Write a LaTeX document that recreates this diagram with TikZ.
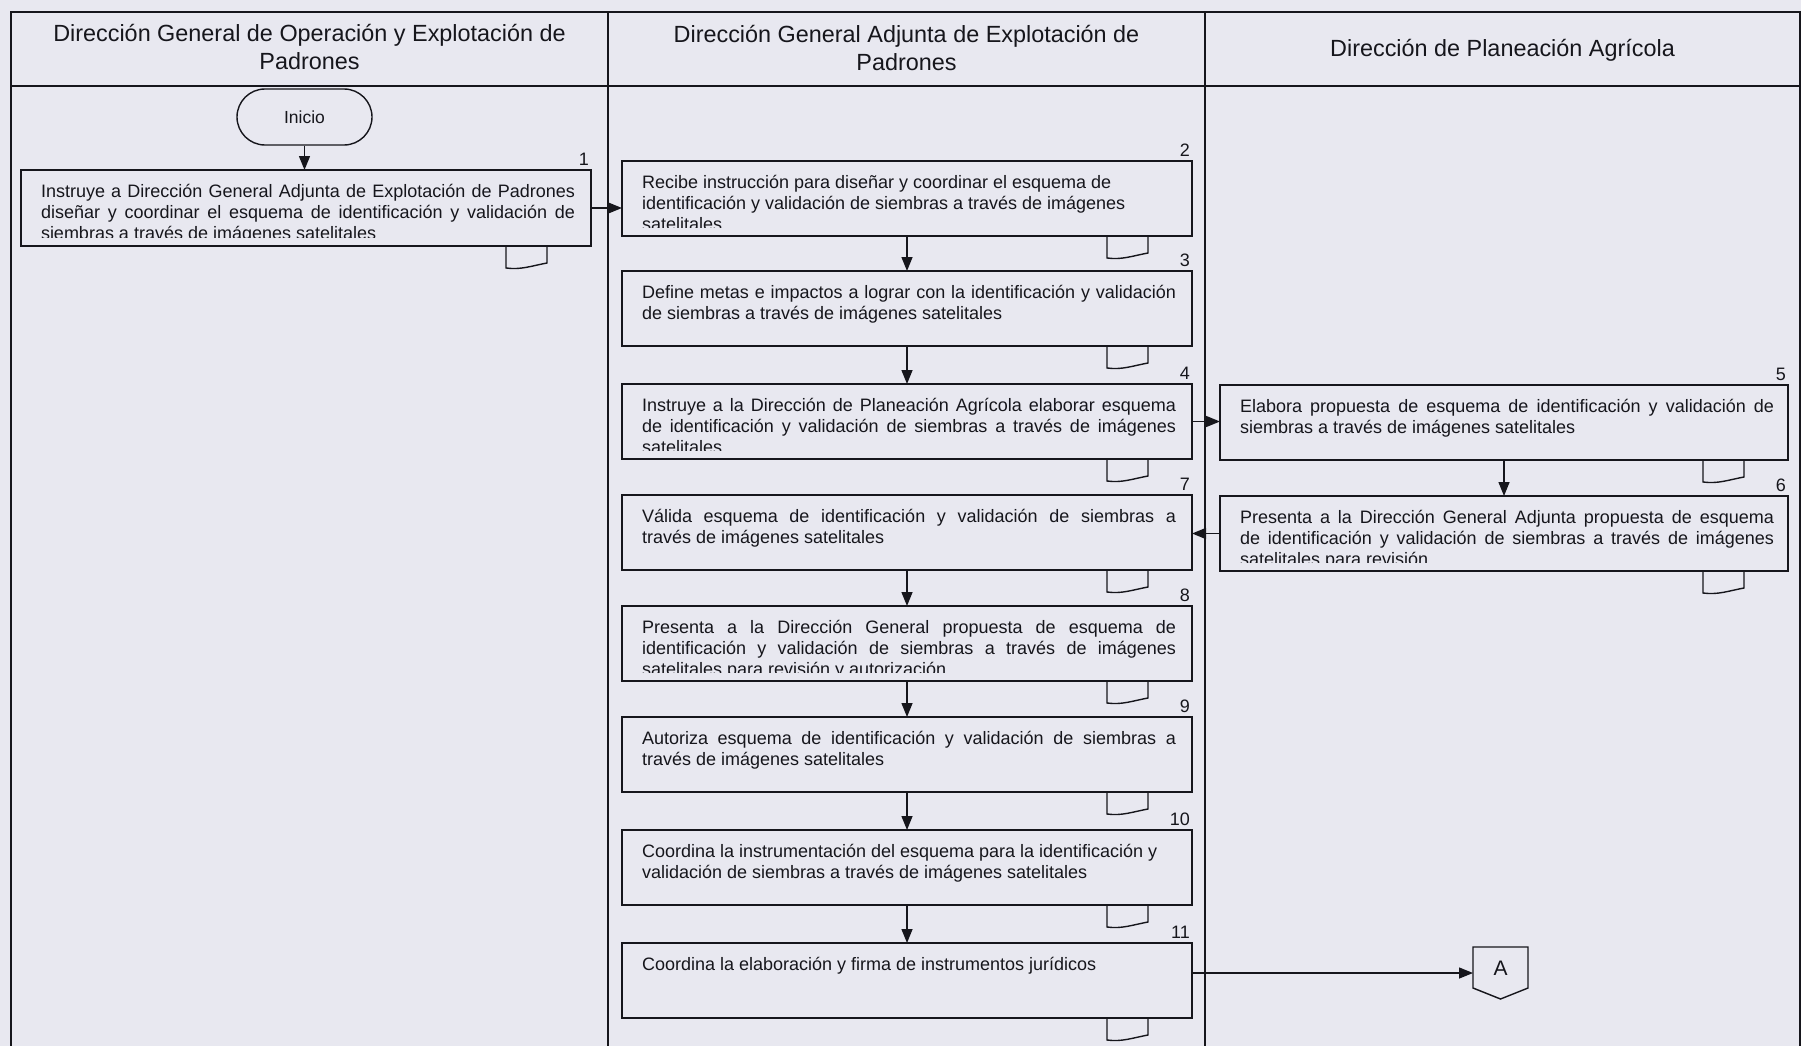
\documentclass[tikz,border=0pt]{standalone}
\usepackage{fontspec}
\setmainfont{Liberation Sans}
\usetikzlibrary{arrows.meta}

\definecolor{paper}{RGB}{232,232,240}
\definecolor{ink}{RGB}{22,22,28}

% document mark hanging under a step box
\newcommand\docmark[1]{%
  \begin{scope}[shift={([xshift=-85pt]#1.south east)}]
    \draw[docline] (0,0) -- (0,22) .. controls (15,24) and (25,20) .. (41,17) -- (41,0);
  \end{scope}}

% text of a step box, cut off near the bottom edge
\newcommand\steptext[3][justify]{%
  \begin{scope}
    \clip ([yshift=8.5pt]#2.south west) rectangle (#2.north east);
    \node[txt, align=#1] at ([xshift=20pt,yshift=-13pt]#2.north west) {\rule{0pt}{14pt}#3};
  \end{scope}}

\begin{document}
\begin{tikzpicture}[x=1pt, y=-1pt,
  frame/.style={draw=ink, line width=1.8pt},
  stepbox/.style={draw=ink, fill=paper, line width=1.4pt, anchor=north west,
    minimum width=570pt, minimum height=75pt, inner sep=0pt, outer sep=0pt},
  txt/.style={anchor=north west, text width=534pt, inner sep=0pt, outer sep=0pt,
    font=\fontsize{18}{21}\selectfont, text=ink},
  num/.style={anchor=south east, inner sep=0pt, font=\fontsize{18}{21}\selectfont, text=ink},
  head/.style={align=center, font=\fontsize{23.4}{28}\selectfont, text=ink},
  docline/.style={draw=ink, line width=1.4pt},
  arr/.style={draw=ink, line width=1.4pt, -{Triangle[length=14pt,width=11pt]}}]

\useasboundingbox (0,0) rectangle (1801,1046);
\fill[paper] (0,0) rectangle (1801,1046);

% Lanes
\draw[frame] (11,1046) -- (11,12) -- (1800,12) -- (1800,1046);
\draw[frame] (11,86) -- (1800,86);
\foreach \x in {608,1205} {
    \draw[frame] (\x,12) -- (\x,1046);
}
\node[head] (h1) at (309.5,47) {Dirección General de Operación y Explotación de\\Padrones};
\node[head] (h2) at (906.5,48) {Dirección General Adjunta de Explotación de\\Padrones};
\node[head] (h3) at (1502.5,50) {Dirección de Planeación Agrícola};

% Start
\node[draw=ink, fill=paper, line width=1.4pt, rounded corners=28pt, minimum width=135pt,
  minimum height=56pt, font=\fontsize{17.5}{21}\selectfont, text=ink] (ini) at (304.5,117) {Inicio};

% Step boxes
\node[stepbox, minimum height=76pt] (b1) at (21,170) {};
\foreach \n/\y in {2/161,3/271,4/384,7/495,8/606,9/717,10/830,11/943} {
    \node[stepbox] (b\n) at (622,\y) {};
}
\node[stepbox, minimum width=568pt] (b5) at (1220,385) {};
\node[stepbox, minimum width=568pt] (b6) at (1220,496) {};

% Step numbers and documents
\foreach \n in {1,...,11} {
    \node[num] (n\n) at ([xshift=-2pt,yshift=4pt]b\n.north east) {\n};
    \docmark{b\n}
}

% Step texts
\steptext{b1}{Instruye a Dirección General Adjunta de Explotación de Padrones\linebreak
  diseñar y coordinar el esquema de identificación y validación de\linebreak
  siembras a través de imágenes satelitales}
\steptext[flush left]{b2}{Recibe instrucción para diseñar y coordinar el esquema de\\
  identificación y validación de siembras a través de imágenes\\ satelitales}
\steptext{b3}{Define metas e impactos a lograr con la identificación y validación\linebreak
  de siembras a través de imágenes satelitales}
\steptext{b4}{Instruye a la Dirección de Planeación Agrícola elaborar esquema\linebreak
  de identificación y validación de siembras a través de imágenes\linebreak satelitales}
\steptext{b5}{Elabora propuesta de esquema de identificación y validación de\linebreak
  siembras a través de imágenes satelitales}
\steptext{b6}{Presenta a la Dirección General Adjunta propuesta de esquema\linebreak
  de identificación y validación de siembras a través de imágenes\linebreak
  satelitales para revisión}
\steptext{b7}{Válida esquema de identificación y validación de siembras a\linebreak
  través de imágenes satelitales}
\steptext{b8}{Presenta a la Dirección General propuesta de esquema de\linebreak
  identificación y validación de siembras a través de imágenes\linebreak
  satelitales para revisión y autorización}
\steptext{b9}{Autoriza esquema de identificación y validación de siembras a\linebreak
  través de imágenes satelitales}
\steptext[flush left]{b10}{Coordina la instrumentación del esquema para la identificación y\\
  validación de siembras a través de imágenes satelitales}
\steptext{b11}{Coordina la elaboración y firma de instrumentos jurídicos}

% Off-page connector
\coordinate (Ain) at (1473,973);
\draw[docline, fill=paper] (1473,947) -- (1528,947) -- (1528,988) -- (1500.5,999) -- (1473,988) -- cycle;
\node[font=\fontsize{21}{24}\selectfont, text=ink] (A) at (1500.5,968) {A};

% Flow
\draw[arr] (ini.south) -- (ini.south |- b1.north);
\draw[arr] (b1.east) -- (b1.east -| b2.west);
\foreach \a/\b in {2/3,3/4,7/8,8/9,9/10,10/11} {
    \draw[arr] (b\a) -- (b\b);
}
\draw[arr] (b4.east) -- (b4.east -| b5.west);
\draw[arr] (b5) -- (b6);
\draw[arr] (b6.west) -- (b6.west -| b7.east);
\draw[arr] (b11.east |- Ain) -- (Ain);
\end{tikzpicture}
\end{document}
